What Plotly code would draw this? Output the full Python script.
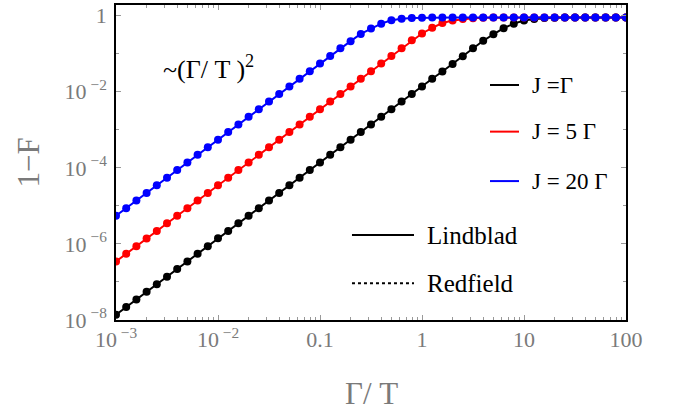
import plotly.graph_objects as go

# Gamma/T sample points (10 per decade, 1e-3 .. 1e2)
gamma_over_T = [10 ** (-3 + k / 10) for k in range(51)]

# 1 - F
one_minus_F_J1 = [
    1.38e-8, 2.19e-8, 3.47e-8, 5.50e-8, 8.71e-8,
    1.38e-7, 2.19e-7, 3.47e-7, 5.50e-7, 8.71e-7,
    1.40e-6, 2.19e-6, 3.47e-6, 5.50e-6, 8.71e-6,
    1.38e-5, 2.19e-5, 3.47e-5, 5.50e-5, 8.71e-5,
    1.38e-4, 2.19e-4, 3.47e-4, 5.50e-4, 8.71e-4,
    1.38e-3, 2.19e-3, 3.47e-3, 5.50e-3, 8.71e-3,
    1.38e-2, 2.19e-2, 3.40e-2, 5.40e-2, 8.60e-2,
    0.138, 0.218, 0.324, 0.468, 0.617,
    0.741, 0.813, 0.861, 0.881, 0.889,
    0.891, 0.891, 0.891, 0.891, 0.891, 0.891,
]
one_minus_F_J5 = [
    3.47e-7, 5.50e-7, 8.71e-7,
    1.38e-6, 2.19e-6, 3.47e-6, 5.50e-6, 8.71e-6,
    1.38e-5, 2.19e-5, 3.47e-5, 5.50e-5, 8.71e-5,
    1.38e-4, 2.19e-4, 3.47e-4, 5.50e-4, 8.71e-4,
    1.38e-3, 2.19e-3, 3.47e-3, 5.50e-3, 8.71e-3,
    1.38e-2, 2.19e-2, 3.47e-2, 5.50e-2, 8.71e-2,
    0.140, 0.225, 0.340, 0.480, 0.640,
    0.750, 0.815, 0.860, 0.880, 0.889,
    0.891, 0.891, 0.891, 0.891, 0.891, 0.891,
    0.891, 0.891, 0.891, 0.891, 0.891, 0.891, 0.891,
]
one_minus_F_J20 = [
    5.50e-6, 8.71e-6,
    1.38e-5, 2.19e-5, 3.47e-5, 5.50e-5, 8.71e-5,
    1.38e-4, 2.19e-4, 3.47e-4, 5.50e-4, 8.71e-4,
    1.38e-3, 2.19e-3, 3.47e-3, 5.50e-3, 8.71e-3,
    1.38e-2, 2.19e-2, 3.47e-2, 5.50e-2, 8.71e-2,
    0.140, 0.214, 0.330, 0.458, 0.617,
    0.755, 0.830, 0.870, 0.885, 0.890,
    0.891, 0.891, 0.891, 0.891, 0.891, 0.891, 0.891, 0.891,
    0.891, 0.891, 0.891, 0.891, 0.891, 0.891, 0.891, 0.891,
    0.891, 0.891, 0.891,
]

series_names = ["J =Γ", "J = 5 Γ", "J = 20 Γ"]
series_colors = ["#000000", "#ff0000", "#0000ff"]
series_values = [one_minus_F_J1, one_minus_F_J5, one_minus_F_J20]

x_tick_vals = [1e-3, 1e-2, 1e-1, 1, 10, 100]
x_tick_text = ["10<sup>\u00a0−3</sup>", "10<sup>\u00a0−2</sup>", "0.1", "1", "10", "100"]
y_tick_vals = [1e-8, 1e-6, 1e-4, 1e-2, 1]
y_tick_text = ["10<sup>\u00a0−8</sup>", "10<sup>\u00a0−6</sup>", "10<sup>\u00a0−4</sup>",
               "10<sup>\u00a0−2</sup>", "1"]

serif = "Liberation Serif"
gray = "#7a7a7a"

fig = go.Figure()
for name, color, vals in zip(series_names, series_colors, series_values):
    # Lindblad: solid line
    fig.add_trace(go.Scatter(x=gamma_over_T, y=vals, mode="lines",
                             line=dict(color=color, width=2),
                             name=name + " Lindblad", showlegend=False, hoverinfo="skip"))
    # Redfield: dotted (dots)
    fig.add_trace(go.Scatter(x=gamma_over_T, y=vals, mode="markers",
                             marker=dict(color=color, size=8, line=dict(width=0)),
                             name=name + " Redfield", showlegend=False, hoverinfo="skip"))

# minor tick positions
x_minor = [m * 10.0 ** d for d in range(-3, 2) for m in range(2, 10)]
y_minor = [1e-7, 1e-5, 1e-3, 1e-1]

fig.update_xaxes(
    type="log", range=[-3, 2], automargin=False,
    tickvals=x_tick_vals, ticktext=x_tick_text,
    ticks="inside", ticklen=5, tickwidth=1, tickcolor="#999999",
    showline=True, linecolor="black", linewidth=1.5, mirror="allticks",
    showgrid=False, zeroline=False,
    tickfont=dict(family=serif, size=22, color=gray),
    ticklabelstandoff=-1,
    minor=dict(tickvals=x_minor, ticks="inside", ticklen=3, tickcolor="#999999", showgrid=False),
)
fig.update_yaxes(
    type="log", range=[-8, 0.28], automargin=False,
    tickvals=y_tick_vals, ticktext=y_tick_text,
    ticks="inside", ticklen=5, tickwidth=1, tickcolor="#999999",
    showline=True, linecolor="black", linewidth=1.5, mirror="allticks",
    showgrid=False, zeroline=False,
    tickfont=dict(family=serif, size=22, color=gray),
    ticklabelstandoff=3,
    minor=dict(tickvals=y_minor, ticks="inside", ticklen=3, tickcolor="#999999", showgrid=False),
)

# axis titles
fig.add_annotation(xref="paper", yref="paper", x=0.5, y=-0.232,
                   text="Γ/ T", showarrow=False, xanchor="center", yanchor="middle",
                   font=dict(family=serif, size=31, color=gray))
fig.add_annotation(xref="paper", yref="paper", x=-0.1725, y=0.5,
                   text="1−F", showarrow=False, textangle=-90,
                   xanchor="center", yanchor="middle",
                   font=dict(family=serif, size=31, color=gray))

# legend 1 (colours)
leg_rows = [0.746, 0.598, 0.441]
for name, color, yy in zip(series_names, series_colors, leg_rows):
    fig.add_shape(type="line", xref="paper", yref="paper",
                  x0=0.7333, x1=0.7902, y0=yy, y1=yy,
                  line=dict(color=color, width=2))
    fig.add_annotation(xref="paper", yref="paper", x=0.812, y=yy,
                       text=name, showarrow=False, xanchor="left", yanchor="middle",
                       font=dict(family=serif, size=23, color="black"))

# legend 2 (methods)
method_names = ["Lindblad", "Redfield"]
method_dash = ["solid", "dot"]
method_rows = [0.2698, 0.1165]
for name, dash, yy in zip(method_names, method_dash, method_rows):
    fig.add_shape(type="line", xref="paper", yref="paper",
                  x0=0.4627, x1=0.5843, y0=yy, y1=yy,
                  line=dict(color="black", width=2, dash=dash))
    fig.add_annotation(xref="paper", yref="paper", x=0.605, y=yy,
                       text=name, showarrow=False, xanchor="left", yanchor="middle",
                       font=dict(family=serif, size=25, color="black"))

fig.add_annotation(xref="paper", yref="paper", x=0.089, y=0.80,
                   text="~(Γ/ T )<sup>2</sup>", showarrow=False,
                   xanchor="left", yanchor="middle",
                   font=dict(family=serif, size=26, color="black"))

fig.update_layout(
    width=676, height=410,
    margin=dict(l=116, r=50, t=5, b=90),
    plot_bgcolor="white", paper_bgcolor="white",
    showlegend=False, hovermode=False,
)

fig.write_html("out.html", config={"displayModeBar": False},
               post_script="document.body.style.margin='0px';")
